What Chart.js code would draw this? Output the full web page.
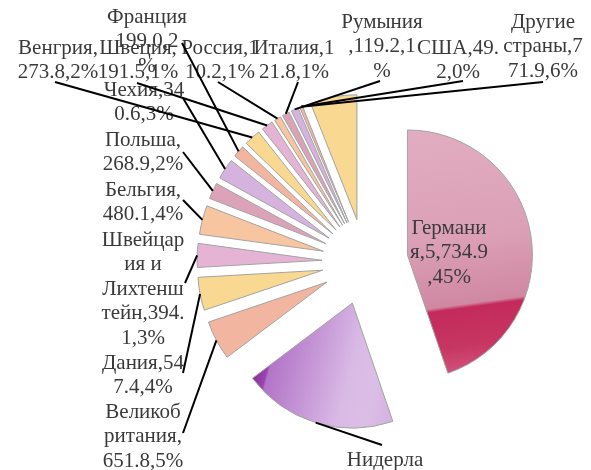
<!DOCTYPE html>
<html>
<head>
<meta charset="utf-8">
<script src="https://cdn.jsdelivr.net/npm/chart.js@4.4.1/dist/chart.umd.min.js"></script>
<style>
html,body{margin:0;padding:0;background:#ffffff;}
#wrap{width:591px;height:470px;position:relative;}
</style>
</head>
<body>
<div id="wrap"><canvas id="chart"></canvas></div>
<script>
// ---- data ----
const categories = ["Германия","Нидерланды","Великобритания","Дания","Швейцария и Лихтенштейн","Бельгия","Польша","Чехия","Франция","Венгрия","Швеция","Россия","Италия","Румыния","США","Другие страны"];
const values = [5734.9, 2560.0, 651.8, 547.4, 394.1, 480.1, 268.9, 340.6, 199.0, 273.8, 191.5, 110.2, 121.8, 119.2, 49.2, 771.9];
const labelLines = [
  ["Германи","я,5,734.9",",45%"],
  ["Нидерла","нды,2,56","0.0,20%"],
  ["Великоб","ритания,","651.8,5%"],
  ["Дания,54","7.4,4%"],
  ["Швейцар","ия и","Лихтенш","тейн,394.","1,3%"],
  ["Бельгия,","480.1,4%"],
  ["Польша,","268.9,2%"],
  ["Чехия,34","0.6,3%"],
  ["Франция","199.0,2","%"],
  ["Венгрия,","273.8,2%"],
  ["Швеция,","191.5,1%"],
  ["Россия,1","10.2,1%"],
  ["Италия,1","21.8,1%"],
  ["Румыния",",119.2,1","%"],
  ["США,49.","2,0%"],
  ["Другие","страны,7","71.9,6%"]
];

// ---- style / layout ----
const palette = ["#dca3b8","#d6b3df","#f2b6a0","#f9d892","#e5b4d5","#f7c59f"];
const labelLayout = [
  {x:449,y:228,lx:null,ly:null},
  {x:385,y:460,lx:382,ly:445},
  {x:143,y:412,lx:183,ly:433},
  {x:143,y:363,lx:183,ly:373},
  {x:143,y:240,lx:185,ly:283},
  {x:143,y:190,lx:183,ly:200},
  {x:143,y:140,lx:183,ly:152},
  {x:144,y:90,lx:183,ly:98},
  {x:147,y:17,lx:182,ly:43},
  {x:58,y:48,lx:55,ly:82},
  {x:138,y:48,lx:137,ly:83},
  {x:220,y:48,lx:218,ly:82},
  {x:294,y:48,lx:298,ly:82},
  {x:382,y:22,lx:380,ly:81},
  {x:458,y:48,lx:463,ly:81},
  {x:543,y:22,lx:543,ly:82,anchor:14}
];
const EXPLODE = 43;

function sliceFill(ctx, arc, i) {
  const R = arc.outerRadius, x = arc.x, y = arc.y;
  if (i === 0) {
    const g = ctx.createLinearGradient(x + 0.10*R, y - R, x + 0.37*R, y + 0.98*R);
    g.addColorStop(0, "#e2adc1");
    g.addColorStop(0.45, "#dba0b6");
    g.addColorStop(0.715, "#d088a2");
    g.addColorStop(0.73, "#c32a5b");
    g.addColorStop(0.88, "#c73663");
    g.addColorStop(1, "#d2567e");
    return g;
  }
  if (i === 1) {
    const g = ctx.createLinearGradient(x - 0.80*R, y + 0.60*R, x + 0.36*R, y + 0.91*R);
    g.addColorStop(0, "#8a2e9e");
    g.addColorStop(0.08, "#9a44ae");
    g.addColorStop(0.095, "#b274c8");
    g.addColorStop(0.35, "#c595d6");
    g.addColorStop(0.62, "#d9bae5");
    g.addColorStop(0.8, "#dbbee6");
    g.addColorStop(1, "#d3b0df");
    return g;
  }
  return null;
}

const explodePlugin = {
  id: "explode",
  beforeDatasetDraw(chart, args) {
    const ctx = chart.ctx;
    args.meta.data.forEach((arc, i) => {
      const mid = (arc.startAngle + arc.endAngle) / 2;
      ctx.save();
      ctx.translate(Math.cos(mid) * EXPLODE, Math.sin(mid) * EXPLODE);
      const g = sliceFill(ctx, arc, i);
      const saved = arc.options;
      if (g) arc.options = Object.assign({}, saved, {backgroundColor: g});
      arc.draw(ctx);
      arc.options = saved;
      ctx.restore();
    });
    return false;
  }
};

const labelPlugin = {
  id: "pieLabels",
  afterDatasetsDraw(chart) {
    const ctx = chart.ctx;
    const arcs = chart.getDatasetMeta(0).data;
    ctx.save();
    ctx.font = '21px "Liberation Serif", "Times New Roman", serif';
    ctx.fillStyle = "#3a3a3a";
    ctx.textAlign = "center";
    ctx.textBaseline = "middle";
    labelLines.forEach((lines, i) => {
      const L = labelLayout[i];
      lines.forEach((t, k) => ctx.fillText(t, L.x, L.y + k * 24.5));
    });
    ctx.strokeStyle = "#000000";
    ctx.lineWidth = 2;
    labelLayout.forEach((L, i) => {
      if (L.lx === null) return;
      const arc = arcs[L.anchor !== undefined ? L.anchor : i];
      const mid = (arc.startAngle + arc.endAngle) / 2;
      const d = EXPLODE + arc.outerRadius;
      ctx.beginPath();
      ctx.moveTo(L.lx, L.ly);
      ctx.lineTo(arc.x + Math.cos(mid) * d, arc.y + Math.sin(mid) * d);
      ctx.stroke();
    });
    ctx.restore();
  }
};

new Chart(document.getElementById("chart"), {
  type: "pie",
  data: {
    labels: categories,
    datasets: [{
      data: values,
      backgroundColor: categories.map((_, i) => palette[i % palette.length]),
      borderColor: "#a3a3a3",
      borderWidth: 1
    }]
  },
  options: {
    responsive: true,
    maintainAspectRatio: false,
    animation: false,
    events: [],
    radius: 125,
    layout: {padding: {left: 139, right: 0, top: 54, bottom: 0}},
    plugins: {legend: {display: false}, tooltip: {enabled: false}}
  },
  plugins: [explodePlugin, labelPlugin]
});
</script>
</body>
</html>
